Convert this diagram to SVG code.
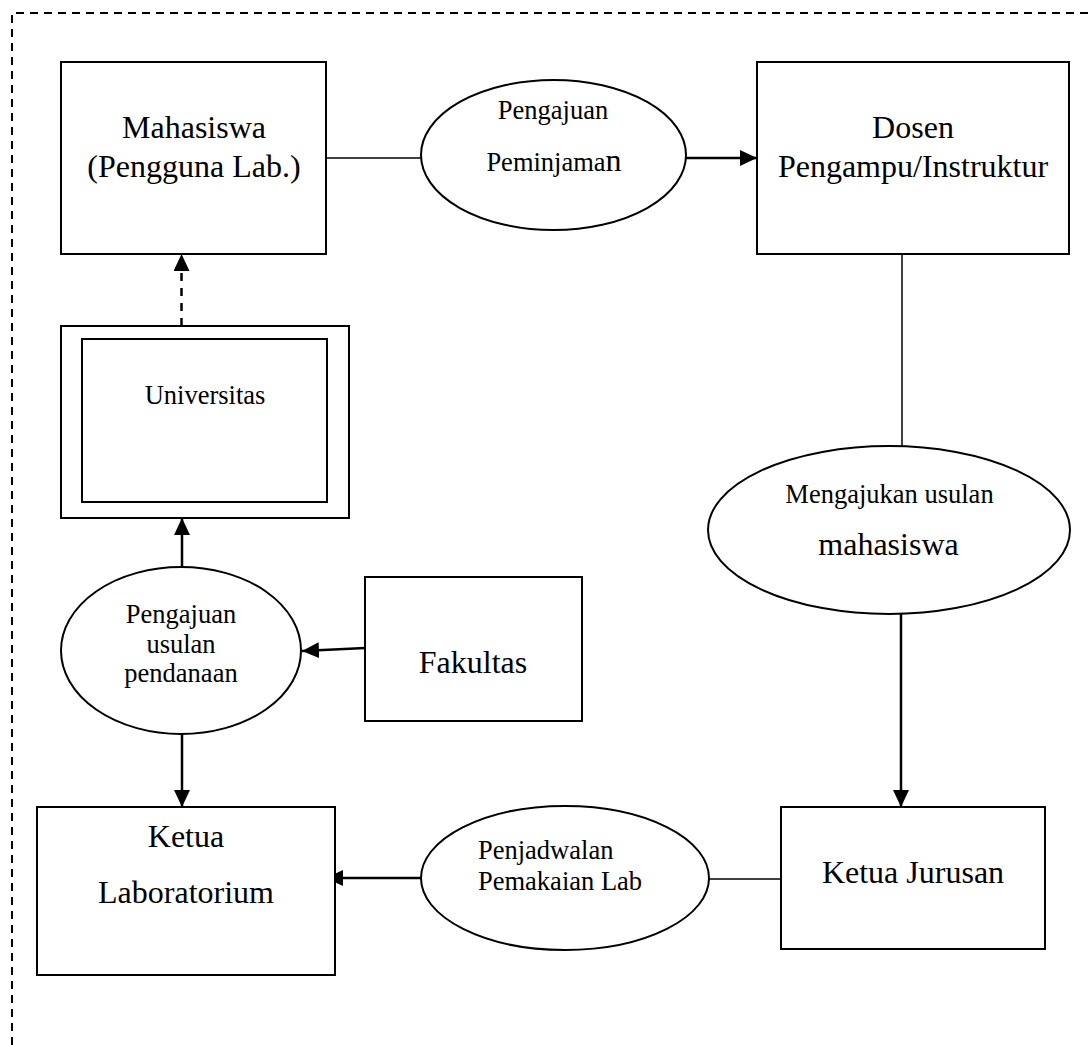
<svg xmlns="http://www.w3.org/2000/svg" width="1092" height="1045" viewBox="0 0 1092 1045">
  <style>
    .box { fill: #fff; stroke: #000; stroke-width: 2; }
    .oval { fill: #fff; stroke: #000; stroke-width: 2; }
    .line { fill: none; stroke: #000; stroke-width: 1.5; }
    .flow { fill: none; stroke: #000; stroke-width: 2.5; }
    .dash { fill: none; stroke: #000; stroke-width: 2.5; stroke-dasharray: 8 7; }
    .frame { fill: none; stroke: #000; stroke-width: 2; stroke-dasharray: 8 6; }
    text { font-family: "Liberation Serif", "Times New Roman", serif; fill: #000; text-anchor: middle; }
    .lg { font-size: 32px; }
    .sm { font-size: 26.5px; }
  </style>
  <defs>
    <marker id="arrow" markerUnits="userSpaceOnUse" markerWidth="17" markerHeight="16" refX="17" refY="8" orient="auto">
      <path d="M0,0 L17,8 L0,16 z" fill="#000"/>
    </marker>
  </defs>

  <rect width="1092" height="1045" fill="#fff"/>

  <!-- dashed outer frame (top and left edges) -->
  <path class="frame" d="M12,1045 V13 H1092"/>

  <!-- connectors -->
  <g id="connectors">
    <line class="line" x1="326" y1="158" x2="421" y2="158"/>
    <line class="flow" x1="686" y1="158" x2="757" y2="158" marker-end="url(#arrow)"/>
    <line class="line" x1="902" y1="254" x2="902" y2="447"/>
    <line class="flow" x1="901" y1="614" x2="901" y2="807" marker-end="url(#arrow)"/>
    <line class="line" x1="709" y1="879" x2="781" y2="879"/>
    <line class="flow" x1="421" y1="878" x2="326" y2="878" marker-end="url(#arrow)"/>
    <line class="dash" x1="181.5" y1="326" x2="181.5" y2="254" marker-end="url(#arrow)"/>
    <line class="flow" x1="182" y1="567" x2="182" y2="518" marker-end="url(#arrow)"/>
    <line class="flow" x1="365" y1="648" x2="302" y2="651" marker-end="url(#arrow)"/>
    <line class="flow" x1="182" y1="734" x2="182" y2="807" marker-end="url(#arrow)"/>
  </g>

  <g id="mahasiswa">
    <rect class="box" x="61" y="62" width="265" height="192"/>
    <text class="lg" x="194" y="138">Mahasiswa</text>
    <text class="lg" x="194" y="177">(Pengguna Lab.)</text>
  </g>

  <g id="pengajuan-peminjaman">
    <ellipse class="oval" cx="553.5" cy="155" rx="132.5" ry="75"/>
    <text class="sm" x="553" y="119">Pengajuan</text>
    <text class="sm" x="554" y="171">Peminjama<tspan class="lg">n</tspan></text>
  </g>

  <g id="dosen">
    <rect class="box" x="757" y="62" width="312" height="192"/>
    <text class="lg" x="913" y="138">Dosen</text>
    <text class="lg" x="913" y="177">Pengampu/Instruktur</text>
  </g>

  <g id="universitas">
    <rect class="box" x="61" y="326" width="288" height="192"/>
    <rect class="box" x="82" y="339" width="245" height="163"/>
    <text class="sm" x="205" y="404">Universitas</text>
  </g>

  <g id="mengajukan-usulan">
    <ellipse class="oval" cx="889" cy="530" rx="181" ry="84"/>
    <text class="sm" x="889.5" y="503">Mengajukan usulan</text>
    <text class="lg" x="888.5" y="555">mahasiswa</text>
  </g>

  <g id="pengajuan-pendanaan">
    <ellipse class="oval" cx="181" cy="650.5" rx="120" ry="83.5"/>
    <text class="sm" x="181" y="623">Pengajuan</text>
    <text class="sm" x="181" y="653">usulan</text>
    <text class="sm" x="181" y="682">pendanaan</text>
  </g>

  <g id="fakultas">
    <rect class="box" x="365" y="577" width="217" height="144"/>
    <text class="lg" x="473" y="673">Fakultas</text>
  </g>

  <g id="ketua-laboratorium">
    <rect class="box" x="37" y="807" width="298" height="168"/>
    <text class="lg" x="186" y="847">Ketua</text>
    <text class="lg" x="186" y="903">Laboratorium</text>
  </g>

  <g id="penjadwalan">
    <ellipse class="oval" cx="565" cy="878" rx="144" ry="72"/>
    <text class="sm" x="478" y="859" style="text-anchor:start">Penjadwalan</text>
    <text class="sm" x="478" y="890" style="text-anchor:start">Pemakaian Lab</text>
  </g>

  <g id="ketua-jurusan">
    <rect class="box" x="781" y="807" width="264" height="142"/>
    <text class="lg" x="913" y="883">Ketua Jurusan</text>
  </g>
</svg>
